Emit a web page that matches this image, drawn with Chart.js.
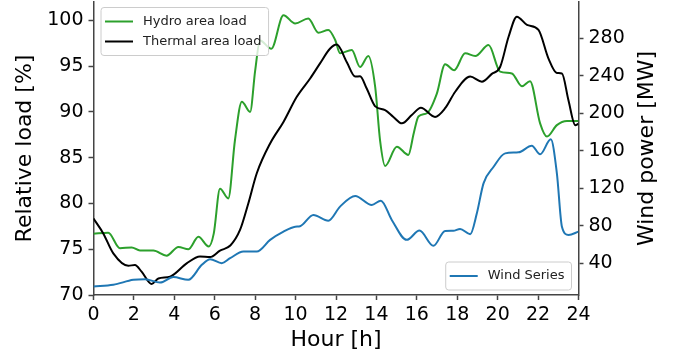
<!DOCTYPE html>
<html>
<head>
<meta charset="utf-8">
<script src="https://cdn.jsdelivr.net/npm/chart.js@4/dist/chart.umd.min.js"></script>
<style>
  html, body { margin: 0; padding: 0; background: #fff; }
  #wrap { width: 675px; height: 360px; position: relative; }
</style>
</head>
<body>
<div id="wrap"><canvas id="chart"></canvas></div>
<script>
// hour of day / relative load [%] for the hydro area
const hydroHours = [0, 0.73, 1.31, 1.89, 2.3, 2.96, 3.62, 4.2, 4.7, 5.19, 5.7, 5.95, 6.26, 6.67, 7.0, 7.34, 7.75, 8.0, 8.24, 8.8,
  9.4, 9.98, 10.63, 11.13, 11.62, 11.96, 12.2, 12.78, 13.19, 13.6, 13.94, 14.18, 14.43, 15.01, 15.58, 15.85, 16.08, 16.5,
  16.99, 17.4, 17.85, 18.39, 18.89, 19.55, 20.12, 20.7, 21.2, 21.6, 22.1, 22.44, 22.93, 23.43, 24];
const hydroLoad = [76.7, 76.8, 75.1, 75.2, 74.85, 74.85, 74.3, 75.25, 75.0, 76.35, 75.3, 76.7, 81.6, 80.55, 86.9, 91.1, 90.0, 94.5, 97.8, 96.9,
  100.55, 99.65, 100.2, 98.65, 98.95, 97.85, 96.4, 96.75, 94.9, 96.1, 92.7, 86.9, 84.1, 86.2, 85.3, 87.7, 89.5, 89.85,
  92.0, 95.2, 94.55, 96.4, 96.1, 97.3, 94.4, 94.2, 92.8, 93.35, 88.75, 87.3, 88.55, 89.0, 89.0];

// thermal area
const thermalHours = [0, 0.49, 0.98, 1.72, 2.05, 2.38, 2.88, 3.21, 3.79, 4.61, 5.27, 5.77, 6.26, 6.77, 7.25, 7.66, 8.08, 8.74,
  9.4, 10.06, 10.72, 11.21, 11.7, 12.04, 12.53, 12.95, 13.19, 13.52, 13.94, 14.43, 14.84, 15.26, 15.75, 16.2, 16.9, 17.4,
  17.9, 18.64, 19.22, 19.71, 20.12, 20.54, 20.95, 21.45, 22.02, 22.51, 22.93, 23.18, 23.5, 23.84, 24];
const thermalLoad = [78.35, 76.7, 74.55, 73.2, 73.27, 72.55, 71.2, 71.8, 72.0, 73.45, 74.2, 74.15, 74.85, 75.4, 77.1, 80.0, 83.3, 86.55,
  88.9, 91.65, 93.65, 95.3, 96.9, 97.35, 95.45, 93.85, 93.9, 92.55, 90.6, 90.2, 89.45, 88.75, 89.65, 90.45, 89.45, 90.4,
  92.2, 93.85, 93.3, 94.15, 94.9, 98.2, 100.4, 99.5, 98.95, 95.85, 94.25, 94.2, 91.3, 88.55, 88.7];

// wind power [MW], right axis
const windHours = [0, 0.98, 1.97, 2.55, 3.29, 3.95, 4.69, 5.36, 5.77, 6.35, 6.76, 7.42, 8.08, 8.74, 9.4, 9.98, 10.22, 10.88,
  11.62, 12.2, 12.95, 13.77, 14.22, 14.76, 15.5, 16.13, 16.82, 17.4, 17.8, 18.14, 18.64, 18.97, 19.3, 19.8, 20.37,
  21.03, 21.69, 22.1, 22.63, 22.93, 23.18, 23.51, 24];
const windPower = [15.0, 16.9, 22.2, 22.9, 19.3, 25.1, 22.2, 38.2, 44.3, 40.0, 45.3, 52.4, 52.4, 64.9, 73.7, 79.0, 79.5, 91.5,
  85.4, 100.4, 111.8, 102.2, 106.8, 86.2, 64.9, 74.8, 58.5, 74.5, 74.6, 76.6, 70.9, 93.3, 125.3, 143, 157.3,
  158.4, 165.4, 156.3, 172.3, 136, 79, 70.2, 73.7];

const hourTicks = [0, 2, 4, 6, 8, 10, 12, 14, 16, 18, 20, 22, 24];
const loadTicks = [70, 75, 80, 85, 90, 95, 100];
const windTicks = [40, 80, 120, 160, 200, 240, 280];

const FONT = 'DejaVu Sans';
const AXIS = '#444';

function pts(xs, ys) {
  return xs.map((x, i) => ({ x: x, y: ys[i] }));
}

function fixedTicks(values) {
  return axis => { axis.ticks = values.map(v => ({ value: v })); };
}

function noPad(size, dim) {
  return scale => {
    scale[dim] = size;
    scale.paddingTop = 0; scale.paddingBottom = 0;
    scale.paddingLeft = 0; scale.paddingRight = 0;
  };
}

function drawLegend(ctx, sets, x, y, anchorRight, anchorBottom) {
  ctx.save();
  ctx.font = '13px "' + FONT + '"';
  const textW = Math.max(...sets.map(d => ctx.measureText(d.label).width));
  const w = 4 + 28 + 10 + textW + 7;
  const h = 8 + sets.length * 20;
  const bx = anchorRight ? x - w : x;
  const by = anchorBottom ? y - h : y;
  ctx.beginPath();
  ctx.roundRect(bx, by, w, h, 3);
  ctx.fillStyle = 'rgba(255,255,255,0.8)';
  ctx.fill();
  ctx.strokeStyle = '#cccccc';
  ctx.lineWidth = 1;
  ctx.stroke();
  sets.forEach((d, i) => {
    const ly = by + 14 + i * 20;
    ctx.beginPath();
    ctx.moveTo(bx + 4, ly);
    ctx.lineTo(bx + 32, ly);
    ctx.strokeStyle = d.borderColor;
    ctx.lineWidth = 2;
    ctx.stroke();
    ctx.fillStyle = '#222';
    ctx.textBaseline = 'middle';
    ctx.textAlign = 'left';
    ctx.fillText(d.label, bx + 42, ly);
  });
  ctx.restore();
}

const extras = {
  id: 'extras',
  afterDraw(chart) {
    const ctx = chart.ctx;
    const a = chart.chartArea;
    const ds = chart.data.datasets;
    drawLegend(ctx, [ds[0], ds[1]], a.left + 7.5, a.top + 5.5, false, false);
    drawLegend(ctx, [ds[2]], a.right - 7, a.bottom - 5, true, true);

    // right axis title, reading bottom to top like the left one
    ctx.save();
    ctx.translate(653, (a.top + a.bottom) / 2);
    ctx.rotate(-Math.PI / 2);
    ctx.font = '22px "' + FONT + '"';
    ctx.fillStyle = '#000';
    ctx.textAlign = 'center';
    ctx.textBaseline = 'alphabetic';
    ctx.fillText('Wind power [MW]', 0, 0);
    ctx.restore();
  }
};

Chart.defaults.font.family = FONT;

new Chart(document.getElementById('chart'), {
  type: 'line',
  data: {
    datasets: [
      { label: 'Hydro area load', data: pts(hydroHours, hydroLoad), yAxisID: 'y',
        borderColor: '#2ca02c', borderWidth: 2, pointRadius: 0, cubicInterpolationMode: 'monotone', order: 3 },
      { label: 'Thermal area load', data: pts(thermalHours, thermalLoad), yAxisID: 'y',
        borderColor: '#000000', borderWidth: 2, pointRadius: 0, cubicInterpolationMode: 'monotone', order: 2 },
      { label: 'Wind Series', data: pts(windHours, windPower), yAxisID: 'y1',
        borderColor: '#1f77b4', borderWidth: 2, pointRadius: 0, cubicInterpolationMode: 'monotone', order: 1 }
    ]
  },
  options: {
    responsive: true,
    maintainAspectRatio: false,
    animation: false,
    layout: { padding: { top: 2, left: 0, right: 0, bottom: 0 } },
    plugins: { legend: { display: false }, tooltip: { enabled: false } },
    scales: {
      x: {
        type: 'linear', min: 0, max: 24,
        afterBuildTicks: fixedTicks(hourTicks),
        afterFit: noPad(65, 'height'),
        ticks: { color: '#000', font: { size: 19 }, padding: 4, maxRotation: 0, autoSkip: false },
        grid: { drawOnChartArea: false, drawTicks: true, tickLength: 5, tickColor: AXIS, tickWidth: 1.5 },
        border: { display: true, color: AXIS, width: 1.5 },
        title: { display: true, text: 'Hour [h]', color: '#000', font: { size: 22 }, padding: { top: 0, bottom: 7 } }
      },
      y: {
        position: 'left', min: 70, max: 102,
        afterBuildTicks: fixedTicks(loadTicks),
        afterFit: noPad(93.5, 'width'),
        ticks: { color: '#000', font: { size: 19 }, padding: 5 },
        grid: { drawOnChartArea: false, drawTicks: true, tickLength: 5, tickColor: AXIS, tickWidth: 1.5 },
        border: { display: true, color: AXIS, width: 1.5 },
        title: { display: true, text: 'Relative load [%]', color: '#000', font: { size: 22 }, padding: { top: 12.4, bottom: 0 } }
      },
      y1: {
        position: 'right', min: 6, max: 319,
        afterBuildTicks: fixedTicks(windTicks),
        afterFit: noPad(96.5, 'width'),
        ticks: { color: '#000', font: { size: 19 }, padding: 5 },
        grid: { drawOnChartArea: false, drawTicks: true, tickLength: 5, tickColor: AXIS, tickWidth: 1.5 },
        border: { display: true, color: AXIS, width: 1.5 }
      }
    }
  },
  plugins: [extras]
});
</script>
</body>
</html>
